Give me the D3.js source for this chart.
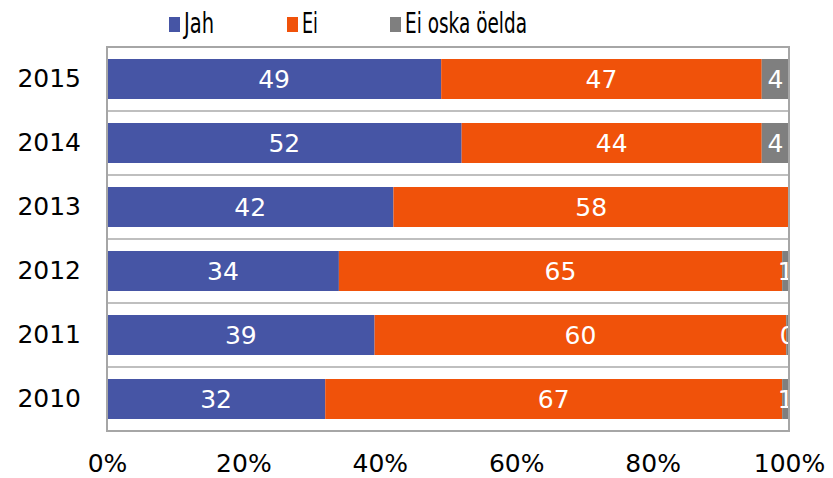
<!DOCTYPE html>
<html><head><meta charset="utf-8">
<script src="https://cdn.jsdelivr.net/npm/d3@7"></script>
<style>html,body{margin:0;padding:0;background:#fff;}</style>
</head><body>
<svg id="c" width="833" height="478"></svg>
<script>
const years = ["2015","2014","2013","2012","2011","2010"];
const jah = [49, 52, 42, 34, 39, 32];
const ei = [47, 44, 58, 65, 60, 67];
const eiOska = [4, 4, 0, 1, 0.4, 1];
const seriesNames = ["Jah", "Ei", "Ei oska öelda"];
const seriesColors = ["#4655A5", "#F0520A", "#7F7F7F"];
const xTicks = [0, 0.2, 0.4, 0.6, 0.8, 1];

const rows = years.map((y, i) => ({year: y, Jah: jah[i], Ei: ei[i], "Ei oska öelda": eiOska[i]}));
const svg = d3.select("#c");
const font = "'DejaVu Sans', Verdana, sans-serif";
const L = 107, R = 789, T = 47, B = 431;

const x = d3.scaleLinear().domain([0, 1]).range([L, R]);
const y = d3.scaleBand().domain(years).range([T, B]).paddingInner(0.375).paddingOuter(0.1875);
const color = d3.scaleOrdinal().domain(seriesNames).range(seriesColors);
const stack = d3.stack().keys(seriesNames).offset(d3.stackOffsetExpand);
const layers = stack(rows);

svg.append("defs").append("clipPath").attr("id", "clip")
  .append("rect").attr("x", L).attr("y", T).attr("width", R - L).attr("height", B - T);

// gridlines between categories
const step = y.step();
const gl = svg.append("g");
years.slice(1).forEach(yr => {
  const yy = y(yr) - step * 0.1875;
  gl.append("line").attr("x1", L).attr("x2", R).attr("y1", yy).attr("y2", yy)
    .attr("stroke", "#BFBFBF").attr("stroke-width", 2);
});

const plot = svg.append("g").attr("clip-path", "url(#clip)");
layers.forEach(layer => {
  const g = plot.append("g");
  g.selectAll("rect").data(layer).join("rect")
    .attr("x", d => x(d[0])).attr("width", d => x(d[1]) - x(d[0]))
    .attr("y", d => y(d.data.year)).attr("height", y.bandwidth())
    .attr("fill", color(layer.key));
  g.selectAll("text").data(layer.filter(d => d.data[layer.key] !== 0)).join("text")
    .attr("x", d => (x(d[0]) + x(d[1])) / 2)
    .attr("y", d => y(d.data.year) + y.bandwidth() / 2)
    .attr("dy", "0.36em")
    .attr("text-anchor", "middle")
    .attr("fill", "#fff")
    .style("font-family", font).style("font-size", "25px")
    .text(d => Math.round(d.data[layer.key]));
});

// frame
svg.append("rect").attr("x", L).attr("y", T).attr("width", R - L).attr("height", B - T)
  .attr("fill", "none").attr("stroke", "#A6A6A6").attr("stroke-width", 2);

// y labels
const yAxis = d3.axisLeft(y).tickSize(0).tickPadding(26);
const ya = svg.append("g").attr("transform", `translate(${L},0)`).call(yAxis);
ya.select(".domain").remove();
ya.selectAll("text").style("font-family", font).style("font-size", "25px").attr("fill", "#000");

// x labels
const xAxis = d3.axisBottom(x).tickValues(xTicks).tickFormat(d3.format(".0%")).tickSize(0).tickPadding(0);
const xa = svg.append("g").attr("transform", `translate(0,${B})`).call(xAxis);
xa.select(".domain").remove();
xa.selectAll("text").attr("y", 41).attr("dy", 0).style("font-family", font).style("font-size", "25px").attr("fill", "#000");

// legend
const legX = [169, 287, 390];
const legW = [30, 16, 122];
const lg = svg.append("g");
seriesNames.forEach((s, i) => {
  lg.append("rect").attr("x", legX[i]).attr("y", 17).attr("width", 11).attr("height", 15).attr("fill", seriesColors[i]);
  lg.append("text").attr("x", legX[i] + 15).attr("y", 33)
    .attr("textLength", legW[i]).attr("lengthAdjust", "spacingAndGlyphs")
    .style("font-family", font).style("font-size", "28px").attr("fill", "#000").text(s);
});
</script>
</body></html>
